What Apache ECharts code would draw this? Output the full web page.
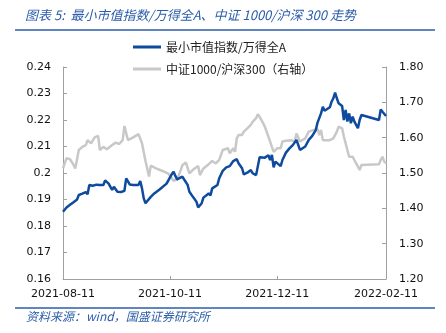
<!DOCTYPE html>
<html><head><meta charset="utf-8">
<script src="https://cdn.jsdelivr.net/npm/echarts@6/dist/echarts.min.js"></script>
<style>html,body{margin:0;padding:0;background:#fff}#c{width:446px;height:333px}</style>
</head><body><div id="c"></div>
<script>
const titleText = '图表 5:  最小市值指数/万得全A、中证 1000/沪深 300 走势';
const sourceText = '资料来源：wind，国盛证券研究所';
const seriesNames = ['最小市值指数/万得全A', '中证1000/沪深300（右轴）'];
const xTickLabels = ['2021-08-11', '2021-10-11', '2021-12-11', '2022-02-11'];
const leftTicks = [0.16, 0.24, 0.01];
const rightTicks = [1.2, 1.8, 0.1];

const blueDates = ['2021-08-11','2021-08-13','2021-08-15','2021-08-17','2021-08-19','2021-08-20','2021-08-22','2021-08-23','2021-08-24','2021-08-25','2021-08-26','2021-08-28','2021-08-30','2021-09-01','2021-09-02','2021-09-03','2021-09-04','2021-09-06','2021-09-07','2021-09-08','2021-09-09','2021-09-10','2021-09-11','2021-09-13','2021-09-15','2021-09-16','2021-09-18','2021-09-20','2021-09-23','2021-09-24','2021-09-25','2021-09-26','2021-09-27','2021-09-28','2021-09-30','2021-10-02','2021-10-05','2021-10-09','2021-10-12','2021-10-13','2021-10-14','2021-10-15','2021-10-18','2021-10-19','2021-10-21','2021-10-22','2021-10-24','2021-10-26','2021-10-27','2021-10-29','2021-10-30','2021-10-31','2021-11-02','2021-11-03','2021-11-04','2021-11-05','2021-11-07','2021-11-08','2021-11-10','2021-11-11','2021-11-12','2021-11-14','2021-11-16','2021-11-18','2021-11-19','2021-11-21','2021-11-22','2021-11-24','2021-11-26','2021-11-27','2021-11-29','2021-12-01','2021-12-02','2021-12-04','2021-12-06','2021-12-07','2021-12-08','2021-12-09','2021-12-10','2021-12-11','2021-12-13','2021-12-14','2021-12-16','2021-12-18','2021-12-20','2021-12-22','2021-12-23','2021-12-24','2021-12-25','2021-12-27','2021-12-28','2021-12-29','2021-12-30','2021-12-31','2022-01-02','2022-01-03','2022-01-05','2022-01-06','2022-01-07','2022-01-08','2022-01-10','2022-01-11','2022-01-12','2022-01-13','2022-01-14','2022-01-15','2022-01-17','2022-01-18','2022-01-19','2022-01-20','2022-01-21','2022-01-22','2022-01-23','2022-01-24','2022-01-25','2022-01-26','2022-01-27','2022-01-28','2022-02-07','2022-02-08','2022-02-09','2022-02-10','2022-02-11'];
const blueValues = [0.1854,0.187,0.188,0.189,0.190,0.1917,0.1922,0.192,0.1928,0.192,0.1955,0.1952,0.1956,0.1955,0.196,0.1955,0.1972,0.196,0.1948,0.1936,0.1948,0.1952,0.1929,0.1928,0.1933,0.198,0.1957,0.1955,0.1955,0.197,0.1942,0.1904,0.1886,0.1887,0.191,0.1923,0.1938,0.196,0.1996,0.2005,0.1989,0.1976,0.1986,0.198,0.1955,0.1929,0.191,0.1892,0.187,0.1886,0.1907,0.191,0.1923,0.1915,0.1942,0.1938,0.1955,0.198,0.2008,0.2009,0.2021,0.2026,0.2045,0.2052,0.2037,0.2018,0.1995,0.2001,0.2011,0.1999,0.1992,0.2059,0.2064,0.2058,0.2067,0.2049,0.2068,0.2021,0.2043,0.2049,0.2026,0.2049,0.2077,0.2093,0.2106,0.2125,0.212,0.2087,0.2093,0.21,0.2106,0.2125,0.2122,0.214,0.2162,0.219,0.2225,0.225,0.2235,0.2238,0.2248,0.2269,0.2282,0.2303,0.2282,0.2263,0.2253,0.22,0.2238,0.2194,0.2225,0.2188,0.2213,0.2194,0.2188,0.2169,0.22,0.2219,0.22,0.224,0.2231,0.2225,0.2215];

const grayDates = ['2021-08-11','2021-08-13','2021-08-15','2021-08-17','2021-08-18','2021-08-20','2021-08-22','2021-08-24','2021-08-25','2021-08-27','2021-08-29','2021-08-31','2021-09-01','2021-09-03','2021-09-05','2021-09-08','2021-09-10','2021-09-12','2021-09-14','2021-09-15','2021-09-17','2021-09-20','2021-09-23','2021-09-25','2021-09-27','2021-09-29','2021-09-30','2021-10-03','2021-10-07','2021-10-10','2021-10-12','2021-10-13','2021-10-15','2021-10-17','2021-10-18','2021-10-20','2021-10-22','2021-10-24','2021-10-27','2021-10-28','2021-10-30','2021-11-02','2021-11-04','2021-11-06','2021-11-08','2021-11-10','2021-11-11','2021-11-13','2021-11-14','2021-11-16','2021-11-17','2021-11-18','2021-11-19','2021-11-21','2021-11-22','2021-11-24','2021-11-26','2021-11-27','2021-11-29','2021-11-30','2021-12-01','2021-12-03','2021-12-04','2021-12-05','2021-12-07','2021-12-08','2021-12-09','2021-12-11','2021-12-13','2021-12-14','2021-12-16','2021-12-19','2021-12-21','2021-12-22','2021-12-24','2021-12-25','2021-12-27','2021-12-29','2022-01-01','2022-01-03','2022-01-04','2022-01-05','2022-01-06','2022-01-07','2022-01-10','2022-01-12','2022-01-14','2022-01-15','2022-01-16','2022-01-17','2022-01-18','2022-01-20','2022-01-21','2022-01-23','2022-01-24','2022-01-25','2022-01-26','2022-01-27','2022-01-28','2022-02-07','2022-02-08','2022-02-09','2022-02-10','2022-02-11'];
const grayValues = [1.513,1.542,1.539,1.523,1.513,1.565,1.574,1.579,1.593,1.584,1.601,1.605,1.565,1.574,1.567,1.579,1.586,1.582,1.593,1.633,1.593,1.601,1.610,1.584,1.534,1.490,1.521,1.513,1.505,1.498,1.485,1.478,1.482,1.507,1.522,1.530,1.499,1.509,1.520,1.494,1.513,1.525,1.534,1.527,1.537,1.565,1.560,1.570,1.556,1.570,1.560,1.598,1.6075,1.6075,1.617,1.6265,1.636,1.645,1.655,1.666,1.659,1.641,1.631,1.617,1.589,1.574,1.560,1.570,1.570,1.589,1.591,1.593,1.589,1.612,1.589,1.588,1.598,1.617,1.622,1.624,1.6075,1.622,1.593,1.595,1.593,1.598,1.617,1.631,1.636,1.6265,1.603,1.565,1.546,1.546,1.542,1.527,1.523,1.5085,1.5226,1.5246,1.537,1.546,1.532,1.527];

function ts(s) { const p = s.split('-').map(Number); return Date.UTC(p[0], p[1] - 1, p[2]); }
function pad(n) { return (n < 10 ? '0' : '') + n; }
function fmt(v) { const d = new Date(Math.round(v)); return d.getUTCFullYear() + '-' + pad(d.getUTCMonth() + 1) + '-' + pad(d.getUTCDate()); }

const BLUE = '#0E4A9E';
const GRAY = '#C8C8C8';
const AX = '#A0A0A0';
const HEAD = '#2B5DAA';
const FONT = 'DejaVu Sans';
const xTickTs = xTickLabels.map(ts);

const chart = echarts.init(document.getElementById('c'), null, { renderer: 'canvas' });
chart.setOption({
  animation: false,
  backgroundColor: '#fff',
  grid: { left: 63, right: 60, top: 67, bottom: 54, containLabel: false },
  legend: {
    orient: 'vertical', left: 128, top: 35, itemWidth: 28, itemHeight: 3, itemGap: 8,
    icon: 'rect',
    textStyle: { fontFamily: 'Noto Sans CJK SC', fontSize: 12, color: '#222', lineHeight: 14 },
    data: seriesNames
  },
  xAxis: {
    type: 'value', min: xTickTs[0], max: xTickTs[xTickTs.length - 1], scale: true,
    axisLine: { show: true, lineStyle: { color: AX, width: 1 } },
    axisTick: { show: true, inside: true, length: 3, customValues: xTickTs, lineStyle: { color: AX } },
    axisLabel: { customValues: xTickTs, formatter: v => fmt(v), margin: 10, color: '#111', fontFamily: FONT, fontSize: 11, showMinLabel: true, showMaxLabel: true },
    splitLine: { show: false }
  },
  yAxis: [{
    type: 'value', min: leftTicks[0], max: leftTicks[1], interval: leftTicks[2], position: 'left',
    axisLine: { show: true, lineStyle: { color: AX, width: 1 } },
    axisTick: { show: true, inside: true, length: 4, lineStyle: { color: AX } },
    axisLabel: { margin: 12, color: '#111', fontFamily: FONT, fontSize: 11, formatter: v => String(+v.toFixed(2)) },
    splitLine: { show: false }
  }, {
    type: 'value', min: rightTicks[0], max: rightTicks[1], interval: rightTicks[2], position: 'right',
    axisLine: { show: true, lineStyle: { color: AX, width: 1 } },
    axisTick: { show: true, inside: true, length: 4, lineStyle: { color: AX } },
    axisLabel: { margin: 13, color: '#111', fontFamily: FONT, fontSize: 11, formatter: v => v.toFixed(2) },
    splitLine: { show: false }
  }],
  series: [{
    name: seriesNames[1], type: 'line', yAxisIndex: 1, showSymbol: false, symbol: 'none',
    lineStyle: { color: GRAY, width: 2.5 }, itemStyle: { color: GRAY },
    data: grayDates.map((d, i) => [ts(d), grayValues[i]])
  }, {
    name: seriesNames[0], type: 'line', yAxisIndex: 0, showSymbol: false, symbol: 'none',
    lineStyle: { color: BLUE, width: 2.5 }, itemStyle: { color: BLUE },
    data: blueDates.map((d, i) => [ts(d), blueValues[i]])
  }],
  graphic: [
    { type: 'text', left: 25, top: 9, style: { text: titleText, fill: HEAD, font: 'italic 13px "Noto Sans CJK SC"' } },
    { type: 'line', shape: { x1: 15, y1: 30, x2: 435, y2: 30 }, style: { stroke: HEAD, lineWidth: 1.5 } },
    { type: 'line', shape: { x1: 15, y1: 308, x2: 435, y2: 308 }, style: { stroke: HEAD, lineWidth: 1.5 } },
    { type: 'text', left: 26, top: 310, style: { text: sourceText, fill: HEAD, font: 'italic 12px "Noto Sans CJK SC"' } }
  ]
});
</script></body></html>
